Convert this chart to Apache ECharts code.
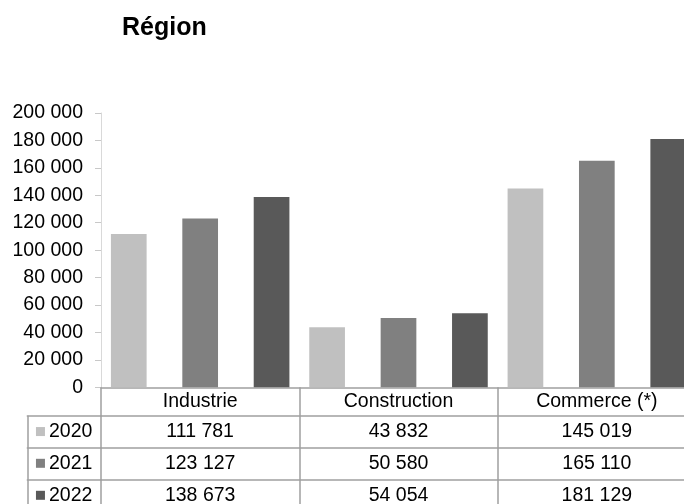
<!DOCTYPE html>
<html>
<head>
<meta charset="utf-8">
<script src="https://cdn.jsdelivr.net/npm/echarts@6/dist/echarts.min.js"></script>
<style>
html,body{margin:0;padding:0;background:#fff;}
#chart{width:684px;height:504px;}
</style>
</head>
<body>
<div id="chart"></div>
<script>
const titleText = 'Région';
const categories = ['Industrie', 'Construction', 'Commerce (*)'];
const years = ['2020', '2021', '2022'];
const values2020 = [111781, 43832, 145019];
const values2021 = [123127, 50580, 165110];
const values2022 = [138673, 54054, 181129];
const seriesValues = [values2020, values2021, values2022];
const colors = ['#c0c0c0', '#808080', '#595959'];
const yMin = 0, yMax = 200000, yInterval = 20000;

const FONT = '"Liberation Sans", Arial, sans-serif';
const FS = 19.5;
const LINE = '#a0a0a0';
const rowOffsets = [0, 28.5, 60, 92];
const rowHeights = [28.5, 31.5, 32, 32];

function fmt(n) {
  return String(n).replace(/\B(?=(\d{3})+(?!\d))/g, ' ');
}

const chart = echarts.init(document.getElementById('chart'), null, {renderer: 'canvas'});

const xAxes = [];
// header row (category names) in main grid
xAxes.push({
  type: 'category', gridIndex: 0, position: 'bottom', offset: rowOffsets[0],
  data: categories,
  axisLine: {show: true, onZero: false, lineStyle: {color: LINE, width: 1.5}},
  axisTick: {show: true, inside: false, interval: 0, length: rowHeights[0], lineStyle: {color: LINE, width: 1.5}},
  axisLabel: {show: true, interval: 0, margin: 0, color: '#000', fontFamily: FONT, fontSize: FS, lineHeight: rowHeights[0]},
  splitLine: {show: false}
});
// value rows in main grid
seriesValues.forEach(function (vals, i) {
  xAxes.push({
    type: 'category', gridIndex: 0, position: 'bottom', offset: rowOffsets[i + 1],
    data: categories,
    axisLine: {show: true, onZero: false, lineStyle: {color: LINE, width: 1.5}},
    axisTick: {show: true, inside: false, interval: 0, length: rowHeights[i + 1], lineStyle: {color: LINE, width: 1.5}},
    axisLabel: {
      show: true, interval: 0, margin: 0, color: '#000', fontFamily: FONT, fontSize: FS, lineHeight: rowHeights[i + 1],
      formatter: function (v, idx) { return fmt(vals[idx]); }
    },
    splitLine: {show: false}
  });
});
// legend column rows in second grid
years.forEach(function (yr, i) {
  xAxes.push({
    type: 'category', gridIndex: 1, position: 'bottom', offset: rowOffsets[i + 1],
    data: [yr],
    axisLine: {show: true, onZero: false, lineStyle: {color: LINE, width: 1.5}},
    axisTick: {show: true, inside: false, interval: 0, length: rowHeights[i + 1], lineStyle: {color: LINE, width: 1.5}},
    axisLabel: {
      show: true, interval: 0, margin: 0, color: '#000', fontFamily: FONT, fontSize: FS, lineHeight: rowHeights[i + 1],
      formatter: function (v) { return '{m|}{t|' + v + '}'; },
      rich: {
        m: {width: 9, height: 9, backgroundColor: colors[i], verticalAlign: 'middle'},
        t: {padding: [0, 0, 0, 4], fontFamily: FONT, fontSize: FS, color: '#000', lineHeight: rowHeights[i + 1]}
      }
    },
    splitLine: {show: false}
  });
});

const option = {
  backgroundColor: '#fff',
  animation: false,
  title: {
    text: titleText, left: 117, top: 11,
    textStyle: {fontFamily: FONT, fontSize: 25, fontWeight: 'bold', color: '#000'}
  },
  grid: [
    {left: 101, right: -12, top: 113, bottom: 116.7, containLabel: false, outerBoundsMode: 'none'},
    {left: 27.3, right: 583, top: 113, bottom: 116.7, containLabel: false, outerBoundsMode: 'none'}
  ],
  xAxis: xAxes,
  yAxis: [
    {
      type: 'value', gridIndex: 0, min: yMin, max: yMax, interval: yInterval,
      axisLine: {show: true, onZero: false, lineStyle: {color: '#d9d9d9', width: 1}},
      axisTick: {show: true, length: 6, lineStyle: {color: '#c8c8c8', width: 1}},
      axisLabel: {color: '#000', fontFamily: FONT, fontSize: FS, margin: 18, formatter: function (v) { return fmt(v); }},
      splitLine: {show: false}
    },
    {type: 'value', gridIndex: 1, min: 0, max: 1, show: false}
  ],
  series: seriesValues.map(function (vals, i) {
    return {
      name: years[i], type: 'bar', xAxisIndex: 0, yAxisIndex: 0,
      data: vals, barWidth: 35.7, barGap: '100%',
      itemStyle: {color: colors[i]},
      z: 1
    };
  })
};
chart.setOption(option);
</script>
</body>
</html>
